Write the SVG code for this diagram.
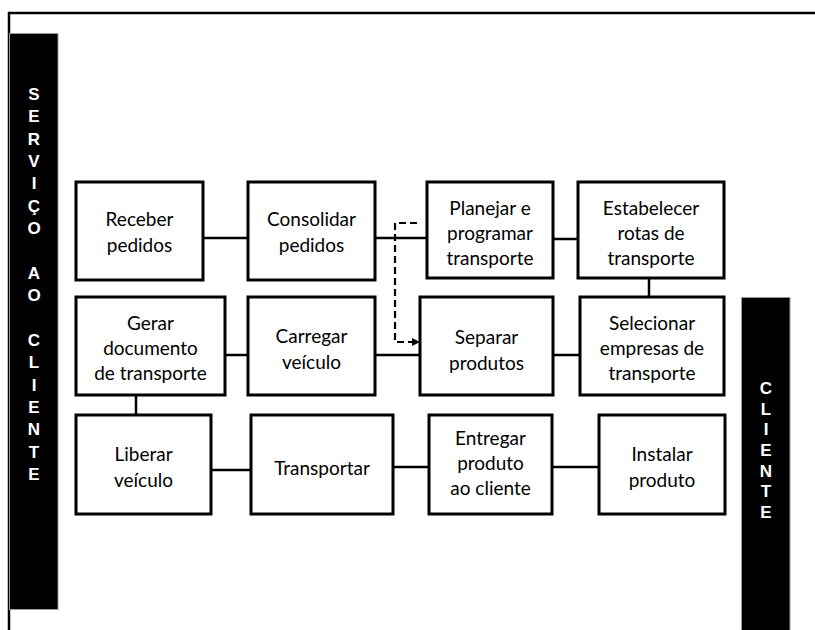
<svg xmlns="http://www.w3.org/2000/svg" width="815" height="630" viewBox="0 0 815 630">
<style>
.box{fill:#fff;stroke:#000;stroke-width:3}
.t{font-family:Lato,"Open Sans","Liberation Sans",sans-serif;font-size:19px;fill:#000;text-anchor:middle;dominant-baseline:central}
.bar{fill:#000;stroke:#999;stroke-width:1}
.bl{font-family:"Liberation Sans",Arial,sans-serif;font-weight:bold;font-size:17px;fill:#fff;text-anchor:middle;dominant-baseline:central}
.c{stroke:#000;stroke-width:2.5;fill:none}
</style>
<defs>
<marker id="ah" markerWidth="8" markerHeight="8" refX="7" refY="4" orient="auto" markerUnits="userSpaceOnUse">
<path d="M0,0 L8,4 L0,8 z" fill="#000"/>
</marker>
</defs>
<rect width="815" height="630" fill="#fff"/>
<path d="M9,630 V13 H815" fill="none" stroke="#000" stroke-width="2.5"/>
<g id="lane-servico">
<rect class="bar" x="9.5" y="33.5" width="48.5" height="576"/>
<text class="bl" x="34">
<tspan x="34" y="94">S</tspan><tspan x="34" y="116.4">E</tspan><tspan x="34" y="138.7">R</tspan><tspan x="34" y="161">V</tspan><tspan x="34" y="183.4">I</tspan><tspan x="34" y="205.8">Ç</tspan><tspan x="34" y="228.1">O</tspan><tspan x="34" y="272.8">A</tspan><tspan x="34" y="295.2">O</tspan><tspan x="34" y="339.9">C</tspan><tspan x="34" y="362.3">L</tspan><tspan x="34" y="384.6">I</tspan><tspan x="34" y="407">E</tspan><tspan x="34" y="429.3">N</tspan><tspan x="34" y="451.7">T</tspan><tspan x="34" y="474">E</tspan>
</text>
</g>
<g id="lane-cliente">
<rect class="bar" x="741.5" y="297.5" width="48.5" height="340"/>
<text class="bl" x="766">
<tspan x="766" y="388">C</tspan><tspan x="766" y="408.7">L</tspan><tspan x="766" y="429.3">I</tspan><tspan x="766" y="450">E</tspan><tspan x="766" y="470.7">N</tspan><tspan x="766" y="491.3">T</tspan><tspan x="766" y="512">E</tspan>
</text>
</g>
<g id="connectors">
<line class="c" x1="203" y1="238" x2="248" y2="238"/>
<line class="c" x1="375" y1="238" x2="427" y2="238"/>
<line class="c" x1="553" y1="239" x2="578" y2="239"/>
<line class="c" x1="649" y1="278" x2="649" y2="297"/>
<line class="c" x1="225" y1="355" x2="248" y2="355"/>
<line class="c" x1="375" y1="355" x2="420" y2="355"/>
<line class="c" x1="553" y1="355" x2="580" y2="355"/>
<line class="c" x1="136" y1="395" x2="136" y2="415"/>
<line class="c" x1="211" y1="470" x2="251" y2="470"/>
<line class="c" x1="393" y1="467" x2="429" y2="467"/>
<line class="c" x1="552" y1="467" x2="599" y2="467"/>
<path d="M417,223 H395 V342 H419" fill="none" stroke="#000" stroke-width="2.2" stroke-dasharray="7,4" marker-end="url(#ah)"/>
</g>
<g id="n-receber"><rect class="box" x="76" y="182" width="127" height="98"/><text class="t"><tspan x="139.5" y="218">Receber</tspan><tspan x="139.5" y="244">pedidos</tspan></text></g>
<g id="n-consolidar"><rect class="box" x="248" y="182" width="127" height="98"/><text class="t"><tspan x="311.5" y="218">Consolidar</tspan><tspan x="311.5" y="244">pedidos</tspan></text></g>
<g id="n-planejar"><rect class="box" x="427" y="182" width="126" height="96"/><text class="t"><tspan x="490" y="207">Planejar e</tspan><tspan x="490" y="232">programar</tspan><tspan x="490" y="257">transporte</tspan></text></g>
<g id="n-estabelecer"><rect class="box" x="578" y="182" width="146" height="96"/><text class="t"><tspan x="651" y="207">Estabelecer</tspan><tspan x="651" y="232">rotas de</tspan><tspan x="651" y="257">transporte</tspan></text></g>
<g id="n-gerar"><rect class="box" x="76" y="297" width="149" height="98"/><text class="t"><tspan x="150.5" y="322">Gerar</tspan><tspan x="150.5" y="347">documento</tspan><tspan x="150.5" y="372">de transporte</tspan></text></g>
<g id="n-carregar"><rect class="box" x="248" y="297" width="127" height="98"/><text class="t"><tspan x="311.5" y="335">Carregar</tspan><tspan x="311.5" y="361">veículo</tspan></text></g>
<g id="n-separar"><rect class="box" x="420" y="297" width="133" height="98"/><text class="t"><tspan x="486.5" y="336">Separar</tspan><tspan x="486.5" y="362">produtos</tspan></text></g>
<g id="n-selecionar"><rect class="box" x="580" y="297" width="144" height="98"/><text class="t"><tspan x="652" y="322">Selecionar</tspan><tspan x="652" y="347">empresas de</tspan><tspan x="652" y="372">transporte</tspan></text></g>
<g id="n-liberar"><rect class="box" x="76" y="415" width="135" height="99"/><text class="t"><tspan x="143.5" y="453">Liberar</tspan><tspan x="143.5" y="479">veículo</tspan></text></g>
<g id="n-transportar"><rect class="box" x="251" y="415" width="142" height="99"/><text class="t"><tspan x="322" y="467">Transportar</tspan></text></g>
<g id="n-entregar"><rect class="box" x="429" y="415" width="123" height="99"/><text class="t"><tspan x="490.5" y="437">Entregar</tspan><tspan x="490.5" y="462">produto</tspan><tspan x="490.5" y="487">ao cliente</tspan></text></g>
<g id="n-instalar"><rect class="box" x="599" y="415" width="126" height="99"/><text class="t"><tspan x="662" y="453">Instalar</tspan><tspan x="662" y="479">produto</tspan></text></g>
</svg>
